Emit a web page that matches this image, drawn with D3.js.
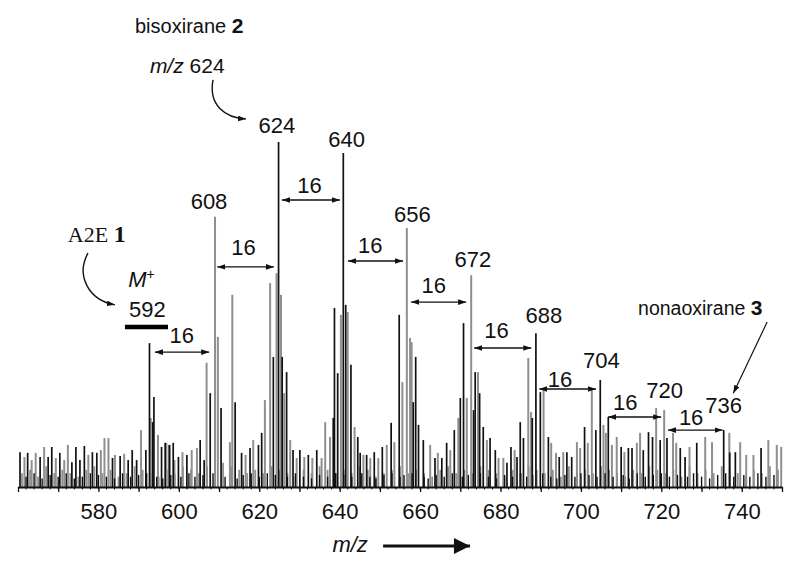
<!DOCTYPE html>
<html><head><meta charset="utf-8">
<script src="https://cdn.jsdelivr.net/npm/d3@7"></script>
<style>body{margin:0;background:#fff}svg{display:block}</style>
</head><body><svg id="c" width="800" height="570"></svg>
<script>
// ---------- data ----------
const blackMz = [560.5,562.4,565.5,567.5,568.4,570.4,573.4,574.4,575.4,576.5,578.5,579.6,583.5,585.4,587.4,588.4,589.5,
591.8,592.7,593.5,593.8,595.7,596.6,597.6,598.6,599.9,602.0,605.3,606.3,607.8,610.5,614.0,615.6,617.7,619.8,620.6,623.5,624.8,625.7,626.8,628.4,630.1,632.2,634.3,638.4,638.7,639.5,640.9,641.5,642.8,644.5,645.1,646.7,648.6,650.6,652.8,654.8,658.3,658.9,659.6,660.8,663.7,665.4,666.6,668.5,670.0,670.8,673.3,673.7,674.8,675.7,677.4,678.7,681.6,682.6,684.1,684.9,685.7,687.9,688.8,689.9,691.9,694.6,696.5,697.7,700.9,703.7,704.8,706.8,710.0,711.8,712.7,715.5,716.8,717.8,719.7,721.4,724.7,725.9,728.8,735.5,737.0,738.4,744.8];
const blackInt = [10.1,9.9,8.7,8.7,11.6,9.9,7.2,11.6,7.8,11.9,10.1,9.9,8.4,9.0,7.8,10.7,7.8,
10.7,41.7,18.8,26.1,11.6,12.8,12.2,12.8,8.7,9.3,13.6,7.8,27.2,22.9,24.6,9.9,11.3,12.2,15.7,37.7,100,37.7,33.3,10.7,10.7,9.3,10.7,20,51.9,33,96.8,52.8,35.4,14.5,9.9,9.3,10.1,11.6,18.6,49.9,24.6,37.7,18,13.6,8.4,8.4,12.8,16.5,25.8,47.5,22.3,33.3,27.2,17.4,14.2,10.7,7.0,11.6,8.7,18.8,14.2,20,44.6,27.5,14.5,8.7,10.1,8.7,17.4,16.5,31,20.3,11.6,11.3,11.3,10.7,15.9,14.5,13.6,14.2,11.3,8.7,12.8,16.5,10,10.1,11.3];

const grayMz = [561.6,563.4,564.4,566.5,569.4,571.5,572.4,577.5,580.6,581.5,582.5,584.1,586.4,590.6,
593.0,594.8,596.9,597.8,598.9,600.9,603.2,604.5,606.9,609.0,609.7,612.7,613.3,616.6,618.5,621.4,622.7,624.3,625.4,626.2,627.7,629.3,631.2,633.2,635.5,636.4,637.6,640.3,642.0,643.7,645.9,647.6,649.6,651.7,653.6,655.6,656.7,657.5,657.9,662.5,664.4,667.5,669.5,671.6,672.7,674.4,676.6,679.5,680.7,683.5,686.9,687.6,690.7,692.6,693.8,695.6,699.0,699.8,701.7,702.7,705.6,706.2,707.7,708.9,710.8,713.9,714.7,718.7,720.7,722.9,723.7,727.0,730.9,732.6,736.9,739.6,741.1,742.9,746.6,748.7,749.8];
const grayInt = [8.7,7.8,9.9,11.6,8.4,7.8,12.2,9.3,10.7,14.2,14.2,9.3,9.6,16.5,
20,15.1,12.8,12.2,7.8,10.1,10.7,11.3,36,78.3,43.5,13,55.7,9.3,13.6,25.2,59.1,62,55.7,27.2,13.6,8.4,8.7,8.4,8.4,18.8,14.5,49.9,50.7,17.4,9.3,8.4,8.4,12.2,13,30.4,75.1,43.2,42,12.2,9.9,10.7,20,25.8,61.4,33.3,13.6,8.4,8.4,10.7,37.4,21.7,28.1,12.8,9.9,10.1,13,11.3,12.8,28.1,18,15.7,12.2,14.5,10.1,12.8,15.7,22.9,22.3,15.7,12.8,11.6,14.5,13,15.7,13,9.3,9.3,13.6,12.2,11.6];

// low-level baseline noise (gray)
const lowMz = [561,563,565,567,569,571,573,575,577,579,581,583,585,587,589,591,593,595,597,599,
601,603,605,607,609,611,613,615,617,619,621,623,625,627,629,631,633,635,637,639,
641,643,645,647,649,651,653,655,657,659,661,663,665,667,669,671,673,675,677,679,
681,683,685,687,689,691,693,695,697,699,701,703,705,707,709,711,713,715,717,719,
721,723,725,727,729,731,733,735,737,739,741,743,745,747,749];
const lowInt = [4,5,3,6,4,5,4,3,5,6,4,5,3,4,6,5,4,3,5,4, 6,5,4,6,5,7,6,5,4,5, 4,6,5,4,3,5,4,6,5,4,
5,4,6,5,3,4,5,6,4,5, 4,3,5,6,4,5,4,6,5,4, 3,5,4,6,5,4,5,3,6,4, 5,4,6,5,4,3,5,4,6,5,
4,5,3,6,4,5,4,6,5,4, 3,5,4,6,5];
// low-level baseline noise (dark)
const lowDarkMz = [562.0,564.0,566.0,568.0,570.0,572.0,574.0,576.0,578.0,580.0,582.0,584.0,586.0,588.0,590.0,592.0,594.5,596.0,598.0,600.5,
602.5,604.0,606.0,608.5,611.5,614.5,616.0,618.0,620.0,622.0,624.0,627.0,629.0,631.0,633.0,635.0,637.0,639.0,641.0,643.0,
645.5,647.5,649.0,651.0,653.0,655.0,656.0,658.0,661.0,662.0,664.0,666.0,668.0,670.5,672.0,675.0,677.0,679.0,681.0,683.0,
685.0,686.5,688.0,690.5,692.5,694.0,696.0,698.5,700.0,702.0,704.0,706.0,708.0,710.5,712.0,714.0,716.0,718.0,720.0,722.0,
724.0,726.5,728.0,730.0,732.0,734.0,736.0,738.0,740.5,742.0,744.0,746.0,748.0];
const lowDarkInt = [3,4,2.5,3.5,3,4,2.5,3,4,3.5,3,2.5,4,3,3.5,4,3,2.5,3.5,3, 4,3,3.5,4,3,2.5,3.5,4,3,4,
3.5,3,4,3,2.5,3.5,3,4,3.5,3, 4,3,2.5,3.5,4,3,3.5,4,3,2.5, 3.5,3,4,3,3.5,4,3,2.5,3.5,3,
4,3,3.5,4,3,2.5,3.5,3,4,3.5, 3,4,3,3.5,2.5,4,3,3.5,4,3, 3.5,3,4,3,2.5,3.5,4,3,3.5,3,
4,3,3.5];

// peak labels
const peakLabels   = ["592","608","624","640","656","672","688","704","720","736"];
const peakLabelMz  = [592.2,607.5,624.4,641.7,658.1,673.1,690.8,705.1,720.8,735.5];
const peakLabelInt = [49.3,80.5,102.5,98.6,76.9,63.8,47.5,34.5,25.8,21.4];

// "16" spacing arrows
const gapStart   = [593.8,609.3,625.4,641.8,657.5,673.2,689.4,706.5,721.4];
const gapEnd     = [607.8,623.9,640.3,656.0,671.7,687.9,704.0,720.2,735.5];
const gapLevel   = [39.1,63.8,83.2,65.5,53.6,40.3,28.4,20.3,16.5];
const gapLabelMz = [600.7,616.1,632.5,647.6,663.4,679.0,694.8,711.0,727.4];
const gapLabelInt= [41.7,67.2,85.2,67.8,56.2,43.2,29.0,22.3,18.0];
const gapText = "16";

// axis
const tickValues = [560,570,580,590,600,610,620,630,640,650,660,670,680,690,700,710,720,730,740,750];
const tickLabels = [580,600,620,640,660,680,700,720,740];

// ---------- chart ----------
const svg = d3.select("#c");
const x = d3.scaleLinear().domain([560,750]).range([18,782]);
const y = d3.scaleLinear().domain([0,100]).range([487,142]);
const SANS = "'Liberation Sans', Arial, Helvetica, sans-serif";
const INK = "#111", GRAY = "#8f8f8f";

const defs = svg.append("defs");
defs.append("marker").attr("id","ah").attr("viewBox","0 0 10 7")
  .attr("refX",10).attr("refY",3.5).attr("markerWidth",8).attr("markerHeight",6)
  .attr("markerUnits","userSpaceOnUse").attr("orient","auto-start-reverse")
  .append("path").attr("d","M0,0L10,3.5L0,7Z").attr("fill",INK);
defs.append("marker").attr("id","ahBig").attr("viewBox","0 0 10 10")
  .attr("refX",10).attr("refY",5).attr("markerWidth",25).attr("markerHeight",16)
  .attr("markerUnits","userSpaceOnUse").attr("orient","auto")
  .append("path").attr("d","M0,0L10,5L0,10Z").attr("fill",INK);

function sticks(mz, it, color, w, cls){
  svg.append("g").selectAll("line").data(d3.zip(mz, it)).join("line")
    .attr("class",cls)
    .attr("x1",d=>x(d[0])).attr("x2",d=>x(d[0]))
    .attr("y1",y(0)).attr("y2",d=>y(d[1]))
    .attr("stroke",color).attr("stroke-width",w);
}
sticks(lowMz, lowInt, GRAY, 1.8, "low");
sticks(grayMz, grayInt, GRAY, 2, "gray");
sticks(lowDarkMz, lowDarkInt, INK, 1.4, "lowdark");
sticks(blackMz, blackInt, INK, 1.7, "black");

// axis
const ax = svg.append("g").attr("transform",`translate(0,${y(0)})`)
  .call(d3.axisBottom(x).tickValues(tickValues).tickSize(5).tickSizeOuter(0).tickPadding(11)
    .tickFormat(d=>tickLabels.includes(d)?d:""));
ax.select(".domain").attr("stroke",INK).attr("stroke-width",2.2);
ax.selectAll(".tick line").attr("stroke",INK).attr("stroke-width",1.3);
ax.selectAll("text").attr("font-family",SANS).attr("font-size",22).attr("fill",INK);
svg.append("g").selectAll("line").data(d3.range(562,750,2)).join("line")
  .attr("x1",d=>x(d)).attr("x2",d=>x(d)).attr("y1",y(0)).attr("y2",y(0)+2.5)
  .attr("stroke",INK).attr("stroke-width",1);

// axis title with arrow
svg.append("text").attr("x",x(642.6)).attr("y",y(-18.8)).attr("text-anchor","middle")
  .attr("font-family",SANS).attr("font-size",22).attr("font-style","italic").attr("fill",INK).text("m/z");
svg.append("line").attr("x1",x(650.8)).attr("x2",x(672.4)).attr("y1",y(-17.1)).attr("y2",y(-17.1))
  .attr("stroke",INK).attr("stroke-width",3).attr("marker-end","url(#ahBig)");

// peak labels
svg.append("g").selectAll("text").data(d3.zip(peakLabels, peakLabelMz, peakLabelInt)).join("text")
  .attr("x",d=>x(d[1])).attr("y",d=>y(d[2])).attr("text-anchor","middle")
  .attr("font-family",SANS).attr("font-size",22).attr("fill",INK).text(d=>d[0]);

// 592 bar
svg.append("line").attr("x1",x(586.6)).attr("x2",x(597.3)).attr("y1",y(46.4)).attr("y2",y(46.4))
  .attr("stroke","#000").attr("stroke-width",4.5);

// spacing arrows
const gaps = d3.range(gapStart.length).map(i=>({s:gapStart[i],e:gapEnd[i],l:gapLevel[i],lm:gapLabelMz[i],li:gapLabelInt[i]}));
svg.append("g").selectAll("line").data(gaps).join("line")
  .attr("x1",d=>x(d.s)+1).attr("x2",d=>x(d.e)-1).attr("y1",d=>y(d.l)).attr("y2",d=>y(d.l))
  .attr("stroke",INK).attr("stroke-width",1.4)
  .attr("marker-start","url(#ah)").attr("marker-end","url(#ah)");
svg.append("g").selectAll("text").data(gaps).join("text")
  .attr("x",d=>x(d.lm)).attr("y",d=>y(d.li)).attr("text-anchor","middle")
  .attr("font-family",SANS).attr("font-size",22).attr("fill",INK).text(gapText);

// annotations
const t1 = svg.append("text").attr("x",x(589.1)).attr("y",y(131.6))
  .attr("font-family",SANS).attr("font-size",20).attr("fill",INK);
t1.append("tspan").text("bisoxirane ");
t1.append("tspan").attr("font-weight","bold").attr("font-size",21).text("2");
const t2 = svg.append("text").attr("x",x(592.8)).attr("y",y(120))
  .attr("font-family",SANS).attr("font-size",21).attr("fill",INK);
t2.append("tspan").attr("font-style","italic").text("m/z");
t2.append("tspan").text(" 624");
const t3 = svg.append("text").attr("x",x(572.4)).attr("y",y(71.0))
  .attr("font-family","'Liberation Serif','Times New Roman',serif").attr("font-size",22).attr("fill",INK);
t3.append("tspan").text("A2E ");
t3.append("tspan").attr("font-weight","bold").attr("font-size",24).text("1");
const t4 = svg.append("text").attr("x",x(587.4)).attr("y",y(58.0))
  .attr("font-family",SANS).attr("font-size",22).attr("fill",INK);
t4.append("tspan").attr("font-style","italic").text("M");
t4.append("tspan").attr("font-size",14).attr("dy",-8).text("+");
const t5 = svg.append("text").attr("x",x(714.2)).attr("y",y(49.9))
  .attr("font-family",SANS).attr("font-size",19.5).attr("fill",INK);
t5.append("tspan").text("nonaoxirane ");
t5.append("tspan").attr("font-weight","bold").attr("font-size",21).text("3");

// curved/straight pointer arrows
const curveA = [[608.5,118.0],[607.3,110.7],[611.5,107.0],[616.7,106.7]];
const curveB = [[577.4,67.8],[574.4,61.4],[577.4,54.2],[584.1,52.8]];
const lineC  = [[746.3,47.8],[737.9,27.2]];
function bez(p){ const q=p.map(d=>[x(d[0]),y(d[1])]);
  return `M${q[0]}C${q[1]} ${q[2]} ${q[3]}`; }
[curveA, curveB].forEach(c=>svg.append("path").attr("d",bez(c)).attr("fill","none")
  .attr("stroke",INK).attr("stroke-width",1.4).attr("marker-end","url(#ah)"));
svg.append("line").attr("x1",x(lineC[0][0])).attr("y1",y(lineC[0][1]))
  .attr("x2",x(lineC[1][0])).attr("y2",y(lineC[1][1]))
  .attr("stroke",INK).attr("stroke-width",1.2).attr("marker-end","url(#ah)");
</script></body></html>
